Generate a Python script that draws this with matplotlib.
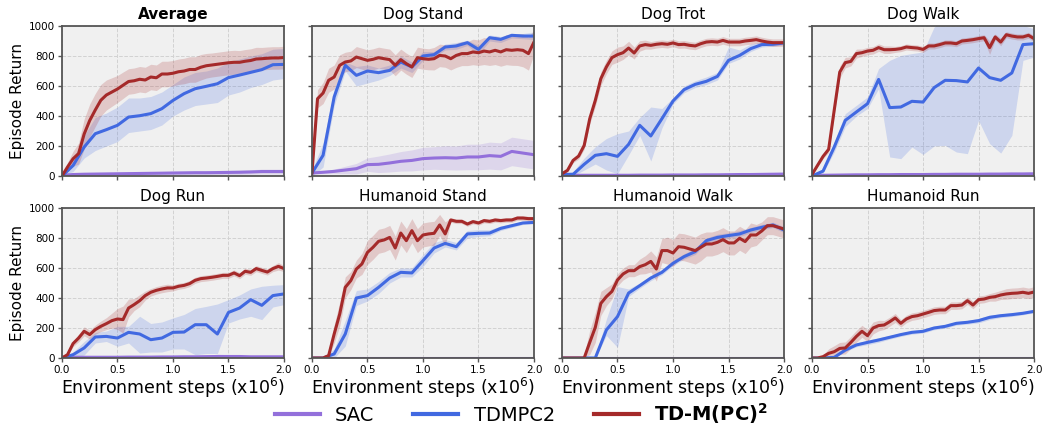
import numpy as np
import matplotlib
matplotlib.use("Agg")
import matplotlib.pyplot as plt

# ---------------- data ----------------
x_fine = np.linspace(0, 2.0, 41)     # 0.05 steps (TD-M(PC)^2)
x_coarse = np.linspace(0, 2.0, 21)   # 0.1 steps (TDMPC2, SAC)

titles = ["Average", "Dog Stand", "Dog Trot", "Dog Walk",
          "Dog Run", "Humanoid Stand", "Humanoid Walk", "Humanoid Run"]

# --- Average ---
avg_red = [0, 60, 115, 150, 280, 370, 440, 505, 540, 560, 580, 605, 630, 635, 645, 640, 660, 655, 680, 680, 685,
           695, 700, 710, 710, 725, 735, 740, 745, 750, 755, 758, 758, 765, 770, 780, 782, 785, 787, 787, 790]
avg_red_hw = [0, 30, 50, 70, 100, 110, 110, 105, 100, 95, 90, 88, 85, 85, 85, 85, 85, 85, 85, 85, 85,
              85, 85, 85, 85, 85, 82, 80, 80, 80, 80, 80, 78, 78, 78, 78, 75, 75, 75, 75, 75]
avg_blue = [0, 70, 193, 282, 309, 338, 393, 402, 416, 449, 504, 549, 582, 598, 615, 656, 673, 691, 709, 742, 744]
avg_blue_lo = [0, 30, 120, 170, 200, 230, 290, 300, 310, 340, 400, 440, 470, 480, 490, 540, 560, 590, 610, 640, 650]
avg_blue_hi = [0, 110, 270, 390, 420, 460, 520, 520, 530, 560, 610, 660, 690, 700, 720, 760, 780, 800, 815, 845, 850]
avg_sac = [5, 10, 12, 13, 14, 15, 16, 17, 18, 19, 20, 21, 22, 22, 23, 24, 25, 27, 30, 30, 30]
avg_sac_hw = [2, 4, 5, 6, 7, 8, 9, 10, 10, 11, 12, 12, 13, 13, 14, 14, 15, 15, 16, 16, 16]

# --- Dog Stand ---
ds_red = [20, 515, 553, 638, 660, 738, 760, 767, 793, 782, 771, 778, 789, 782, 776, 738, 776, 749, 727, 789, 782,
          778, 782, 804, 800, 782, 804, 816, 816, 827, 822, 833, 827, 838, 827, 842, 838, 842, 838, 816, 893]
ds_red_hw = [0, 60, 70, 80, 80, 70, 65, 65, 70, 70, 70, 70, 70, 70, 70, 70, 70, 70, 70, 70, 70,
             70, 75, 75, 75, 75, 80, 80, 80, 85, 85, 90, 90, 95, 95, 100, 100, 105, 110, 110, 80]
ds_blue = [20, 138, 527, 738, 671, 700, 689, 704, 760, 727, 800, 809, 860, 867, 889, 844, 922, 911, 938, 933, 933]
ds_blue_lo = [0, 60, 470, 700, 600, 620, 640, 670, 720, 690, 770, 790, 840, 845, 870, 810, 900, 890, 920, 915, 910]
ds_blue_hi = [40, 220, 580, 760, 730, 740, 720, 740, 800, 760, 830, 830, 880, 890, 905, 870, 940, 930, 950, 950, 960]
ds_sac = [20, 25, 31, 40, 49, 76, 78, 87, 98, 104, 116, 120, 122, 120, 127, 127, 136, 131, 164, 153, 142]
ds_sac_hw = [5, 10, 15, 25, 35, 45, 55, 60, 65, 70, 75, 75, 80, 80, 85, 85, 90, 90, 95, 95, 95]

# --- Dog Trot ---
dt_red = [15, 38, 104, 133, 204, 382, 504, 649, 727, 789, 809, 822, 853, 820, 867, 876, 871, 878, 882, 878, 887,
          876, 878, 871, 867, 882, 893, 896, 893, 904, 893, 893, 893, 900, 904, 909, 900, 893, 889, 889, 889]
dt_red_hw = [0, 10, 15, 20, 25, 35, 40, 45, 45, 45, 50, 45, 45, 40, 35, 30, 25, 25, 25, 25, 25,
             25, 25, 25, 25, 25, 25, 25, 25, 25, 25, 25, 25, 25, 25, 25, 25, 25, 25, 25, 25]
dt_blue = [11, 11, 78, 138, 149, 131, 211, 338, 267, 382, 500, 576, 611, 631, 664, 771, 804, 849, 876, 878, 887]
dt_blue_lo = [0, 0, 40, 80, 40, 15, 140, 270, 100, 320, 480, 555, 590, 610, 640, 750, 780, 830, 860, 865, 875]
dt_blue_hi = [20, 30, 120, 195, 250, 282, 300, 390, 460, 450, 520, 600, 635, 660, 690, 860, 840, 880, 895, 895, 905]
dt_sac = [5, 5, 5, 5, 5, 5, 5, 6, 6, 6, 7, 7, 7, 8, 8, 9, 10, 10, 11, 12, 13]
dt_sac_hw = [3, 3, 3, 3, 3, 3, 3, 4, 4, 4, 4, 4, 4, 4, 5, 5, 5, 5, 6, 6, 6]

# --- Dog Walk ---
dw_red = [10, 71, 131, 178, 438, 693, 756, 764, 816, 822, 833, 838, 856, 842, 842, 844, 849, 860, 856, 853, 844,
          867, 867, 876, 887, 887, 882, 900, 904, 909, 916, 922, 856, 927, 893, 942, 933, 927, 927, 938, 916]
dw_red_hw = [0, 10, 15, 20, 30, 40, 35, 30, 30, 25, 25, 25, 25, 25, 25, 20, 20, 20, 20, 20, 20,
             20, 20, 20, 20, 20, 20, 20, 20, 20, 20, 20, 45, 20, 25, 20, 20, 20, 20, 20, 20]
dw_blue = [0, 33, 193, 371, 427, 482, 644, 456, 460, 498, 493, 589, 638, 636, 627, 720, 656, 638, 687, 876, 882]
dw_blue_lo = [0, 20, 160, 330, 400, 450, 582, 127, 116, 193, 144, 200, 204, 160, 149, 371, 216, 153, 271, 771, 793]
dw_blue_hi = [0, 50, 227, 416, 471, 527, 716, 771, 804, 816, 827, 993, 1050, 1050, 1050, 1050, 1050, 1050, 1050, 1004, 982]
dw_sac = [5, 5, 6, 7, 8, 8, 9, 9, 10, 10, 10, 11, 11, 12, 12, 12, 13, 13, 14, 14, 15]
dw_sac_hw = [3, 3, 3, 3, 4, 4, 4, 4, 4, 4, 5, 5, 5, 5, 5, 5, 5, 5, 5, 5, 5]

# --- Dog Run ---
dr_red = [0, 22, 96, 133, 178, 156, 189, 211, 229, 249, 260, 256, 333, 356, 382, 416, 438, 451, 460, 467, 467,
          478, 484, 496, 518, 529, 533, 538, 544, 551, 551, 567, 549, 578, 571, 596, 584, 573, 596, 611, 596]
dr_red_hw = [0, 10, 20, 25, 30, 30, 30, 35, 40, 50, 70, 90, 60, 40, 40, 30, 25, 25, 25, 25, 20,
             20, 20, 20, 20, 20, 20, 20, 20, 20, 20, 20, 20, 20, 20, 20, 20, 20, 20, 25, 20]
dr_blue = [0, 22, 67, 140, 144, 133, 171, 160, 122, 133, 171, 173, 222, 222, 160, 304, 333, 389, 351, 416, 427]
dr_blue_lo = [0, 5, 20, 100, 110, 78, 100, 33, 40, 40, 60, 60, 22, 30, 30, 233, 260, 278, 256, 340, 356]
dr_blue_hi = [0, 40, 110, 170, 180, 211, 211, 278, 230, 240, 267, 290, 330, 344, 360, 389, 420, 460, 478, 485, 489]
dr_sac = [5, 5, 5, 5, 5, 5, 6, 6, 6, 7, 7, 8, 8, 9, 10, 10, 10, 8, 8, 8, 8]
dr_sac_hw = [3, 3, 3, 3, 3, 3, 3, 3, 3, 4, 4, 5, 6, 10, 15, 12, 5, 4, 4, 4, 4]

# --- Humanoid Stand ---
hs_red = [0, 0, 0, 16, 160, 293, 471, 516, 593, 627, 704, 738, 778, 787, 804, 733, 833, 782, 849, 782, 820,
          827, 831, 887, 827, 920, 911, 911, 893, 909, 900, 916, 911, 920, 916, 920, 920, 933, 933, 929, 929]
hs_red_hw = [0, 0, 0, 10, 60, 80, 70, 60, 60, 70, 80, 80, 80, 80, 80, 80, 80, 80, 80, 80, 80,
             80, 80, 70, 80, 15, 15, 15, 15, 15, 15, 15, 15, 15, 15, 15, 15, 15, 15, 15, 15]
hs_blue = [0, 0, 27, 160, 400, 416, 471, 533, 571, 567, 649, 733, 764, 742, 827, 831, 833, 864, 882, 900, 904]
hs_blue_lo = [0, 0, 0, 80, 350, 380, 430, 500, 540, 540, 610, 700, 740, 720, 800, 810, 815, 850, 870, 890, 895]
hs_blue_hi = [0, 0, 60, 250, 450, 460, 510, 570, 600, 600, 690, 770, 790, 770, 850, 855, 855, 880, 895, 910, 915]
hs_sac = [2] * 21
hs_sac_hw = [2] * 21

# --- Humanoid Walk ---
hwk_red = [0, 0, 0, 0, 0, 104, 204, 364, 409, 444, 520, 560, 582, 582, 609, 622, 644, 593, 716, 716, 700,
           742, 738, 727, 716, 738, 760, 760, 771, 789, 767, 767, 798, 776, 820, 820, 847, 882, 882, 871, 860]
hwk_red_hw = [0, 0, 0, 0, 20, 80, 100, 80, 60, 50, 40, 40, 40, 40, 50, 60, 70, 80, 80, 90, 90,
              90, 90, 90, 90, 90, 80, 80, 80, 80, 80, 80, 80, 80, 80, 70, 60, 60, 60, 60, 60]
hwk_blue = [0, 0, 0, 0, 187, 276, 433, 482, 533, 571, 631, 676, 709, 782, 804, 816, 827, 853, 871, 887, 853]
hwk_blue_lo = [0, 0, 0, 0, 150, 71, 410, 465, 515, 555, 615, 660, 690, 765, 785, 800, 810, 835, 855, 870, 835]
hwk_blue_hi = [0, 0, 0, 0, 260, 476, 460, 500, 550, 590, 650, 695, 730, 800, 825, 835, 850, 870, 890, 905, 875]
hwk_sac = [2] * 21
hwk_sac_hw = [2] * 21

# --- Humanoid Run ---
hr_red = [0, 0, 9, 31, 42, 64, 67, 104, 144, 178, 149, 200, 216, 220, 242, 267, 231, 260, 276, 282, 293,
          304, 316, 320, 320, 349, 349, 353, 382, 353, 389, 393, 404, 409, 420, 427, 431, 433, 438, 431, 440]
hr_red_hw = [0, 0, 10, 30, 40, 40, 40, 40, 40, 40, 40, 40, 35, 30, 30, 30, 25, 25, 25, 25, 25,
             25, 25, 25, 25, 25, 25, 25, 25, 25, 25, 25, 25, 30, 30, 35, 35, 35, 35, 35, 35]
hr_blue = [0, 0, 4, 53, 87, 104, 120, 138, 156, 171, 178, 200, 211, 231, 238, 249, 271, 282, 289, 298, 311]
hr_blue_lo = [0, 0, 0, 43, 75, 89, 105, 126, 144, 159, 166, 188, 199, 219, 226, 234, 256, 270, 277, 288, 301]
hr_blue_hi = [0, 0, 9, 63, 99, 119, 135, 150, 168, 183, 190, 212, 223, 243, 250, 264, 286, 294, 301, 308, 321]
hr_sac = [2] * 21
hr_sac_hw = [2] * 21

red_means = [avg_red, ds_red, dt_red, dw_red, dr_red, hs_red, hwk_red, hr_red]
red_hws = [avg_red_hw, ds_red_hw, dt_red_hw, dw_red_hw, dr_red_hw, hs_red_hw, hwk_red_hw, hr_red_hw]
blue_means = [avg_blue, ds_blue, dt_blue, dw_blue, dr_blue, hs_blue, hwk_blue, hr_blue]
blue_los = [avg_blue_lo, ds_blue_lo, dt_blue_lo, dw_blue_lo, dr_blue_lo, hs_blue_lo, hwk_blue_lo, hr_blue_lo]
blue_his = [avg_blue_hi, ds_blue_hi, dt_blue_hi, dw_blue_hi, dr_blue_hi, hs_blue_hi, hwk_blue_hi, hr_blue_hi]
sac_means = [avg_sac, ds_sac, dt_sac, dw_sac, dr_sac, hs_sac, hwk_sac, hr_sac]
sac_hws = [avg_sac_hw, ds_sac_hw, dt_sac_hw, dw_sac_hw, dr_sac_hw, hs_sac_hw, hwk_sac_hw, hr_sac_hw]

x_ticks = [0.0, 0.5, 1.0, 1.5, 2.0]
y_ticks = [0, 200, 400, 600, 800, 1000]

# ---------------- style ----------------
C_SAC = "#9370DB"
C_TD = "#4169E1"
C_OURS = "#A52A2A"
FACE = "#f0f0f0"
SPINE = "#555555"

fig, axes = plt.subplots(2, 4, figsize=(10.43, 4.29), dpi=100)
fig.subplots_adjust(left=0.0594, right=0.9914, top=0.9394, bottom=0.1655,
                    wspace=0.126, hspace=0.213)

for i, ax in enumerate(axes.flat):
    ax.set_facecolor(FACE)
    ax.set_axisbelow(True)
    ax.grid(True, linestyle="--", color="#d2d2d2", linewidth=0.7)

    sm = np.array(sac_means[i], float)
    sh = np.array(sac_hws[i], float)
    ax.fill_between(x_coarse, np.clip(sm - sh, 0, None), sm + sh, color=C_SAC, alpha=0.2, linewidth=0)
    ax.plot(x_coarse, sm, color=C_SAC, lw=2.2)

    ax.fill_between(x_coarse, blue_los[i], blue_his[i], color=C_TD, alpha=0.2, linewidth=0)
    ax.plot(x_coarse, blue_means[i], color=C_TD, lw=2.2)

    rm = np.array(red_means[i], float)
    rh = np.array(red_hws[i], float)
    ax.fill_between(x_fine, np.clip(rm - rh, 0, None), rm + rh, color=C_OURS, alpha=0.2, linewidth=0)
    ax.plot(x_fine, rm, color=C_OURS, lw=2.2)

    ax.set_xlim(0, 2.0)
    ax.set_ylim(0, 1000)
    ax.set_xticks(x_ticks)
    ax.set_yticks(y_ticks)
    ax.tick_params(direction="out", length=3, width=1, color=SPINE, labelsize=7.5, pad=2)
    for s in ax.spines.values():
        s.set_color(SPINE)
        s.set_linewidth(1.3)

    if i == 0:
        ax.set_title(titles[i], fontsize=11, fontweight="bold", pad=5)
    else:
        ax.set_title(titles[i], fontsize=11, pad=5)

    if i % 4 == 0:
        ax.set_ylabel("Episode Return", fontsize=11, labelpad=3)
    else:
        ax.set_yticklabels([])
    if i >= 4:
        ax.set_xticklabels(["%.1f" % t for t in x_ticks])
        ax.set_xlabel("Environment steps (x10$^6$)", fontsize=12.5, labelpad=1)
    else:
        ax.set_xticklabels([])

handles = [plt.Line2D([], [], color=C_SAC, lw=3),
           plt.Line2D([], [], color=C_TD, lw=3),
           plt.Line2D([], [], color=C_OURS, lw=3)]
labels = ["SAC", "TDMPC2", r"TD-M(PC)$^{\mathbf{2}}$"]
leg = fig.legend(handles, labels, loc="center", bbox_to_anchor=(0.5, 0.035), ncol=3,
                 frameon=False, fontsize=14, handlelength=2.3, columnspacing=2.0,
                 handletextpad=0.8)
leg.get_texts()[2].set_fontweight("bold")

fig.savefig("out.png", dpi=100)
